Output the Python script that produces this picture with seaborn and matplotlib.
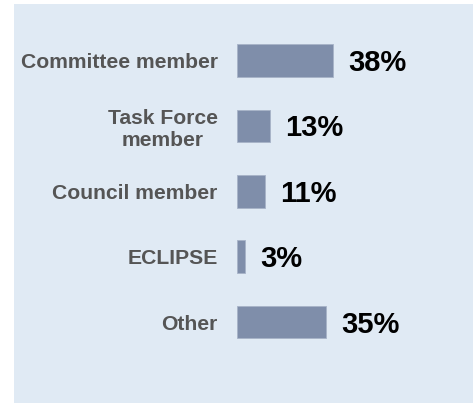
import numpy as np
import pandas as pd
import seaborn as sns
import matplotlib.pyplot as plt
from matplotlib.patches import Rectangle

categories = ["Committee member", "Task Force\nmember", "Council member", "ECLIPSE", "Other"]
values = [38, 13, 11, 3, 35]
value_labels = ["38%", "13%", "11%", "3%", "35%"]

BAR_COLOR = "#7F8EAA"
PANEL_COLOR = "#E0EAF4"

sns.set_style("white")
plt.rcParams['font.family'] = ['Liberation Sans', 'DejaVu Sans']

fig = plt.figure(figsize=(4.73, 4.04), dpi=100, facecolor="white")

# light blue panel behind the chart
fig.patches.append(Rectangle((14 / 473, 1 / 404), 1 - 14 / 473, 399 / 404,
                             transform=fig.transFigure, facecolor=PANEL_COLOR,
                             edgecolor="none", zorder=-10))

ax = fig.add_axes([237 / 473, 0, 1 - 237 / 473, 1])
ax.set_zorder(1)
ax.set_facecolor("none")

df = pd.DataFrame({"role": categories, "pct": values})
sns.barplot(data=df, x="pct", y="role", orient="h", color=BAR_COLOR,
            saturation=1, width=0.5, edgecolor="#A7B3C8", linewidth=0.6, ax=ax)

texts = ax.bar_label(ax.containers[0], labels=value_labels, padding=11,
                     fontsize=21, fontweight="bold", color="black")
for t in texts:
    t.xyann = (t.xyann[0], -1.8)

ax.set_xlim(0, (473 - 237) / 2.53)
ax.set_ylim(5.254, -0.925)
ax.set_xlabel("")
ax.set_ylabel("")
ax.set_xticks([])
ax.tick_params(axis="y", length=0, pad=14)
for t in ax.get_yticklabels():
    t.set_fontsize(15.2)
    t.set_fontweight("bold")
    t.set_color("#555555")
    t.set_multialignment("center")
sns.despine(ax=ax, left=True, bottom=True)

fig.savefig("out.png", dpi=100, facecolor="white")
